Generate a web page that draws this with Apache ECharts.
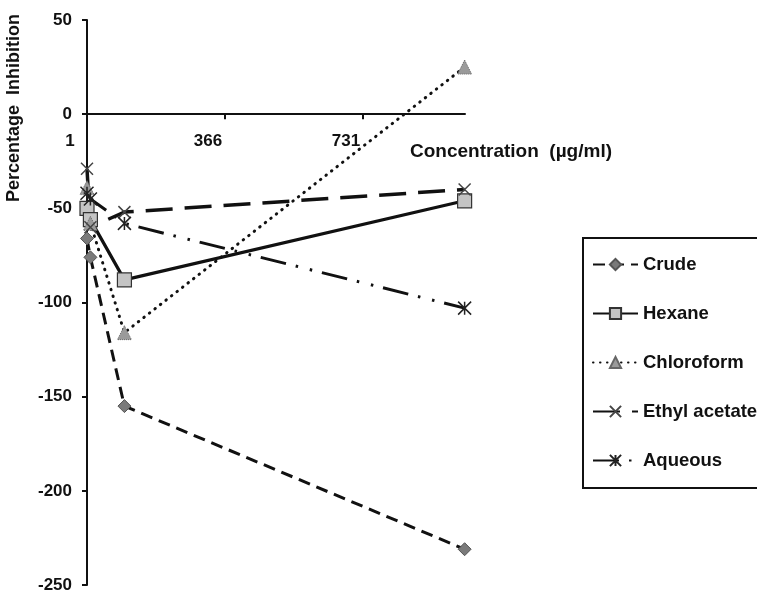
<!DOCTYPE html>
<html>
<head>
<meta charset="utf-8">
<script src="https://cdn.jsdelivr.net/npm/echarts@6/dist/echarts.min.js"></script>
<style>
html,body{margin:0;padding:0;background:#fff;}
#chart{width:757px;height:592px;}
</style>
</head>
<body>
<div id="chart"></div>
<script>
// Data
const concentrations = [1, 10, 100, 1000];
const crude = [-66, -76, -155, -231];
const hexane = [-50, -56, -88, -46];
const chloroform = [-39, -58, -116, 25];
const ethylAcetate = [-29, -60, -52, -40];
const aqueous = [-42, -45, -58, -103];
const xTickValues = [1, 366, 731];
const seriesNames = ['Crude', 'Hexane', 'Chloroform', 'Ethyl acetate', 'Aqueous'];

const FONT = '"Liberation Sans", Arial, sans-serif';
const pairs = vals => concentrations.map((c, i) => [c, vals[i]]);

const chart = echarts.init(document.getElementById('chart'), null, {renderer: 'canvas'});
const GRID = {left: 87, right: 292, top: 20, bottom: 7};

const option = {
  backgroundColor: '#fff',
  animation: false,
  grid: Object.assign({containLabel: false, outerBoundsMode: 'none'}, GRID),
  xAxis: {
    type: 'value',
    min: 1, max: 1001, interval: 365,
    offset: 0,
    name: 'Concentration  (\u00b5g/ml)',
    nameLocation: 'end',
    nameGap: -55,
    nameTextStyle: {fontFamily: FONT, fontWeight: 'bold', fontSize: 19, color: '#111',
      align: 'left', verticalAlign: 'top', padding: [28, 0, 0, 0]},
    axisLine: {onZero: false, lineStyle: {color: '#111', width: 2}},
    axisTick: {show: true, inside: false, length: 5, customValues: xTickValues, lineStyle: {color: '#111', width: 2}},
    axisLabel: {customValues: xTickValues, margin: 19, padding: [0, 34, 0, 0],
      fontFamily: FONT, fontWeight: 'bold', fontSize: 17, color: '#111'},
    splitLine: {show: false}
  },
  yAxis: {
    type: 'value',
    min: -250, max: 50, interval: 50,
    axisLine: {show: true, onZero: false, lineStyle: {color: '#111', width: 2}},
    axisTick: {show: true, inside: false, length: 5, lineStyle: {color: '#111', width: 2}},
    axisLabel: {margin: 15, fontFamily: FONT, fontWeight: 'bold', fontSize: 17, color: '#111'},
    splitLine: {show: false}
  },
  legend: {
    data: seriesNames,
    orient: 'vertical',
    left: 583, top: 238,
    padding: [17, 30, 18, 9],
    itemGap: 30,
    itemWidth: 45,
    itemHeight: 14,
    borderColor: '#111', borderWidth: 2,
    textStyle: {fontFamily: FONT, fontWeight: 'bold', fontSize: 18.5, color: '#111'}
  },
  graphic: [{
    type: 'text',
    x: 14, y: 108,
    rotation: Math.PI / 2,
    style: {text: 'Percentage  Inhibition', font: 'bold 18px ' + FONT, fill: '#111',
      textAlign: 'center', textVerticalAlign: 'middle'}
  }],
  series: [
    {
      name: 'Crude', type: 'line', data: pairs(crude),
      symbol: 'diamond', symbolSize: 13,
      itemStyle: {color: '#7a7a7a', borderColor: '#555', borderWidth: 1},
      lineStyle: {color: '#111', width: 3, type: [12, 7]}
    },
    {
      name: 'Hexane', type: 'line', data: pairs(hexane),
      symbol: 'rect', symbolSize: 14,
      itemStyle: {color: '#c4c4c4', borderColor: '#333', borderWidth: 1.2},
      lineStyle: {color: '#111', width: 3.2, type: 'solid'}
    },
    {
      name: 'Chloroform', type: 'line', data: pairs(chloroform),
      symbol: 'triangle', symbolSize: 14,
      itemStyle: {color: '#9a9a9a', borderColor: '#666', borderWidth: 1, borderType: 'dotted'},
      lineStyle: {color: '#111', width: 3, type: [0.5, 6.5], cap: 'round'}
    },
    {
      name: 'Ethyl acetate', type: 'line', data: pairs(ethylAcetate),
      symbol: 'path://M0,0L10,10M10,0L0,10', symbolSize: 12,
      itemStyle: {color: 'rgba(0,0,0,0)', borderColor: '#444', borderWidth: 1.5},
      lineStyle: {color: '#111', width: 3.5, type: [27, 12]}
    },
    {
      name: 'Aqueous', type: 'line', data: pairs(aqueous),
      symbol: 'path://M0,0L10,10M10,0L0,10M5,0L5,10', symbolSize: 13,
      itemStyle: {color: 'rgba(0,0,0,0)', borderColor: '#222', borderWidth: 1.5},
      lineStyle: {color: '#111', width: 3, type: [26, 10, 2.5, 12, 2.5, 10]}
    }
  ]
};
chart.setOption(option);

// Move the x axis (line, ticks, labels, name) up to where y = 0 sits.
const zeroY = chart.convertToPixel({yAxisIndex: 0}, 0);
const bottomY = chart.getHeight() - GRID.bottom;
chart.setOption({xAxis: {offset: zeroY - bottomY}});
</script>
</body>
</html>
